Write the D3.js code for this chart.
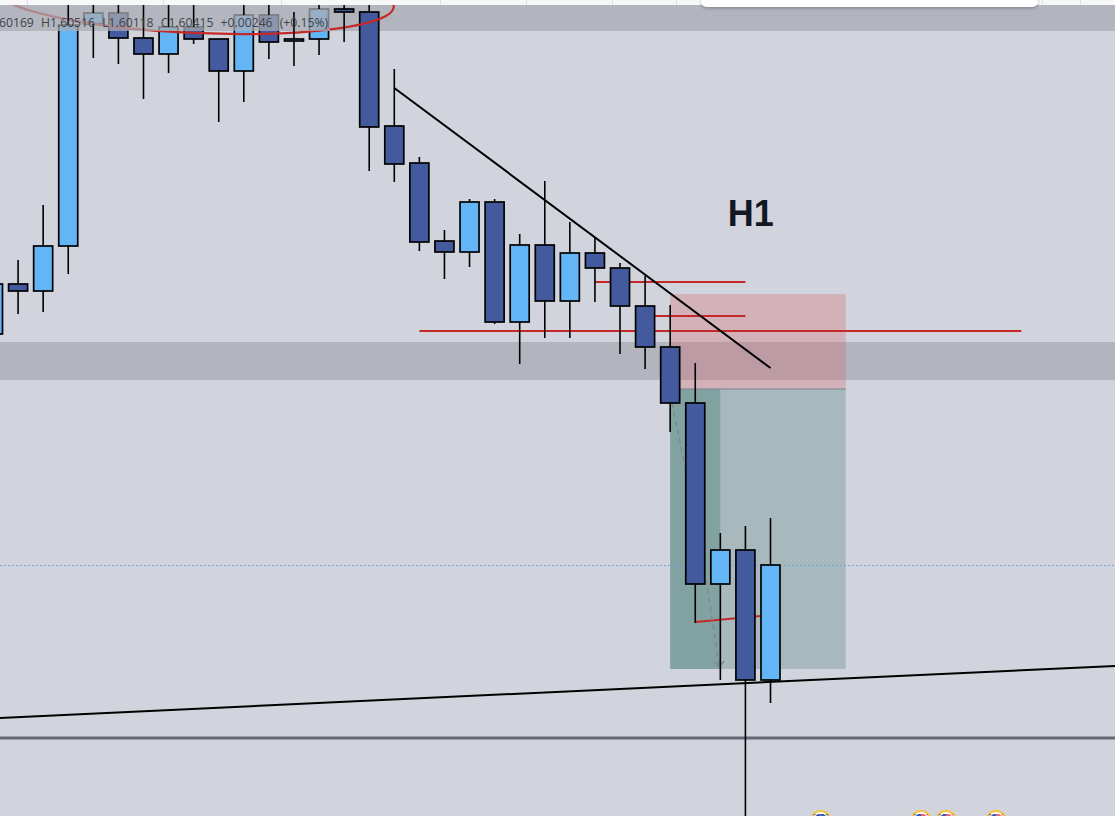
<!DOCTYPE html>
<html><head><meta charset="utf-8">
<script src="https://cdn.jsdelivr.net/npm/d3@7/dist/d3.min.js"></script>
<style>html,body{margin:0;padding:0;background:#d1d4dc;overflow:hidden}</style>
</head><body><svg id="c" width="1115" height="816"></svg>
<script>
// ---- data (bar index, price) ----
const opens  = [1.59830,1.60080,1.60045,1.60270,1.61380,1.61435,1.61310,1.61230,1.61365,1.61305,1.61145,1.61425,1.61295,1.61305,1.61455,1.61440,1.60870,1.60685,1.60295,1.60240,1.60490,1.59890,1.60275,1.59995,1.60235,1.60160,1.59970,1.59765,1.59485,1.58580,1.58750,1.58100];
const highs  = [1.60150,1.60200,1.60475,1.61525,1.61525,1.61525,1.61525,1.61525,1.61525,1.61305,1.61525,1.61525,1.61440,1.61525,1.61525,1.61525,1.61155,1.60715,1.60350,1.60505,1.60505,1.60330,1.60595,1.60390,1.60310,1.60185,1.60120,1.59975,1.59685,1.58835,1.58870,1.58910];
const lows   = [1.59775,1.59930,1.59940,1.60130,1.61210,1.61180,1.61005,1.61135,1.61280,1.60890,1.60990,1.61205,1.61170,1.61225,1.61290,1.60645,1.60590,1.60245,1.60105,1.60165,1.59880,1.59680,1.59810,1.59810,1.59990,1.59730,1.59655,1.59340,1.58385,1.58100,1.57350,1.57985];
const closes = [1.60080,1.60045,1.60270,1.61375,1.61435,1.61310,1.61230,1.61365,1.61305,1.61145,1.61425,1.61290,1.61305,1.61455,1.61440,1.60865,1.60680,1.60290,1.60240,1.60490,1.59890,1.60275,1.59995,1.60235,1.60160,1.59970,1.59765,1.59485,1.58580,1.58750,1.58100,1.58675];
const legendItems = ["60169","H1.60516","L1.60118","C1.60415","+0.00246","(+0.15%)"];
const timeframeLabel = "H1";
// price zones
const topZone = [1.61475, 1.61345];
const midZone = [1.59790, 1.59600];
const baseLine = 1.57810;
// drawings [idx1, price1, idx2, price2]
const downTrend = [16, 1.61060, 31, 1.59660];
const upTrend = [-1, 1.57903, 45, 1.58172];
const redLines = [[24,1.60090,30,1.60090],[26,1.59920,30,1.59920],[17,1.59845,41,1.59845],[28,1.58390,30.6,1.58420]];
// short position tool
const posStart = 27, posEnd = 34, posBarEnd = 29;
const posStop = 1.60030, posEntry = 1.59555, posTarget = 1.58155;
const arrowPts = [[27.07,1.59485],[28.39,1.58700],[28.95,1.58165]];
const eventIdx = [33,37,38,40];
const labelPos = [29.3, 1.60370];

// ---- scales ----
const W = 1115, H = 816;
const svg = d3.select("#c");
const x = d3.scaleLinear().domain([0,31]).range([-7,770.5]);
const y = d3.scaleLinear().domain([1.61500,1.57420]).range([0,H]);
const bw = 19;
const DARK = "#435b9e", LIGHT = "#64b5f6";

const defs = svg.append("defs");
const f = defs.append("filter").attr("id","sh").attr("x","-10%").attr("y","-50%").attr("width","120%").attr("height","250%");
f.append("feDropShadow").attr("dx",0).attr("dy",1.5).attr("stdDeviation",1.5).attr("flood-color","#000").attr("flood-opacity",0.25);

svg.append("rect").attr("width",W).attr("height",H).attr("fill","#d1d4dc");

// zones behind candles
svg.append("rect").attr("x",330).attr("width",W-330).attr("y",y(topZone[0])).attr("height",y(topZone[1])-y(topZone[0])).attr("fill","#b2b5be");
svg.append("rect").attr("x",0).attr("width",W).attr("y",y(midZone[0])).attr("height",y(midZone[1])-y(midZone[0])).attr("fill","#b2b5be");

// position tool
const px0 = x(posStart), px1 = x(posEnd);
svg.append("rect").attr("x",px0).attr("width",px1-px0).attr("y",y(posStop)).attr("height",y(posEntry)-y(posStop)).attr("fill","rgba(215,95,105,0.3)");
svg.append("rect").attr("x",px0).attr("width",px1-px0).attr("y",y(posEntry)).attr("height",y(posTarget)-y(posEntry)).attr("fill","rgba(104,144,142,0.4)");
svg.append("rect").attr("x",px0).attr("width",x(posBarEnd)-px0).attr("y",y(posEntry)).attr("height",y(posTarget)-y(posEntry)).attr("fill","rgba(60,120,110,0.35)");
svg.append("line").attr("x1",px0).attr("x2",px1).attr("y1",y(posEntry)).attr("y2",y(posEntry)).attr("stroke","#7d828c").attr("stroke-width",1);

// last price dotted line
svg.append("line").attr("x1",0).attr("x2",W).attr("y1",y(closes[closes.length-1])+0.5).attr("y2",y(closes[closes.length-1])+0.5)
  .attr("stroke","#5b9fdc").attr("stroke-width",1).attr("stroke-dasharray","1.5,2.5");

// base line
svg.append("line").attr("x1",0).attr("x2",W).attr("y1",y(baseLine)).attr("y2",y(baseLine)).attr("stroke","#656873").attr("stroke-width",3);

// red lines
svg.selectAll("line.red").data(redLines).join("line").attr("class","red")
  .attr("x1",d=>x(d[0])).attr("y1",d=>y(d[1])).attr("x2",d=>x(d[2])).attr("y2",d=>y(d[3]))
  .attr("stroke","#c62828").attr("stroke-width",2.2);

// dashed arrow
const ap = arrowPts.map(p=>[x(p[0]),y(p[1])]);
svg.append("path").attr("d",`M${ap[0][0]},${ap[0][1]} Q${ap[1][0]},${ap[1][1]} ${ap[2][0]},${ap[2][1]}`)
  .attr("fill","none").attr("stroke","#7c8a90").attr("stroke-width",1.5).attr("stroke-dasharray","5,4");
svg.append("path").attr("d",`M${ap[2][0]-5},${ap[2][1]-5} L${ap[2][0]},${ap[2][1]} L${ap[2][0]+5},${ap[2][1]-6}`)
  .attr("fill","none").attr("stroke","#7c8a90").attr("stroke-width",1.5);

// candles
const idx = d3.range(opens.length);
svg.selectAll("rect.body").data(idx).join("rect").attr("class","body")
  .attr("x",i=>x(i)-bw/2).attr("width",bw)
  .attr("y",i=>y(Math.max(opens[i],closes[i])))
  .attr("height",i=>Math.max(1.5,y(Math.min(opens[i],closes[i]))-y(Math.max(opens[i],closes[i]))))
  .attr("fill",i=>closes[i]>=opens[i]?LIGHT:DARK).attr("stroke","#000").attr("stroke-width",1.7);

// red ellipse
svg.append("ellipse").attr("cx",195).attr("cy",-2).attr("rx",199).attr("ry",35)
  .attr("transform","rotate(2.5,195,-2)").attr("fill","none").attr("stroke","#c62828").attr("stroke-width",2.2);

// legend overlay box
svg.append("rect").attr("x",0).attr("width",330).attr("y",y(topZone[0])).attr("height",y(topZone[1])-y(topZone[0]))
  .attr("fill","rgb(168,171,180)").attr("opacity",0.74);

// wicks (on top)
const wick = svg.append("g").attr("stroke","#000").attr("stroke-width",1.6);
idx.forEach(i=>{
  const top = Math.max(opens[i],closes[i]), bot = Math.min(opens[i],closes[i]);
  if (highs[i]>top) wick.append("line").attr("x1",x(i)).attr("x2",x(i)).attr("y1",y(highs[i])).attr("y2",y(top));
  if (lows[i]<bot) wick.append("line").attr("x1",x(i)).attr("x2",x(i)).attr("y1",y(bot)).attr("y2",y(lows[i]));
});

// trendlines
[downTrend, upTrend].forEach(t=>{
  svg.append("line").attr("x1",x(t[0])).attr("y1",y(t[1])).attr("x2",x(t[2])).attr("y2",y(t[3]))
    .attr("stroke","#000").attr("stroke-width",2);
});

// legend text
const lt = svg.append("text").attr("x",-1).attr("y",27).attr("font-family","'Open Sans', sans-serif").attr("font-size",12.2)
  .attr("word-spacing",4).attr("fill","#3f424a");
legendItems.forEach((s,k)=>{ lt.append("tspan").text((k?" ":"")+s); });

// H1 label
svg.append("text").attr("x",x(labelPos[0])).attr("y",y(labelPos[1])).attr("font-family","'Liberation Sans', Arial, sans-serif")
  .attr("font-weight","bold").attr("font-size",36).attr("fill","#131722").text(timeframeLabel);

// top strip
svg.append("rect").attr("x",0).attr("y",0).attr("width",W).attr("height",y(topZone[0])).attr("fill","#f7f8fa");
[27,163,281,440,526,612,676,1042,1080].forEach(v=>{
  svg.append("line").attr("x1",v+0.5).attr("x2",v+0.5).attr("y1",0).attr("y2",y(topZone[0])).attr("stroke","#dcdfe6");
});
svg.append("rect").attr("x",701).attr("y",-12).attr("width",337).attr("height",19).attr("rx",6).attr("fill","#ffffff").attr("filter","url(#sh)");

// event markers at bottom
eventIdx.forEach((e,k)=>{
  const g = svg.append("g").attr("transform",`translate(${x(e)},821)`);
  g.append("circle").attr("r",10).attr("fill","#ffffff").attr("stroke","#f3c342").attr("stroke-width",2);
  g.append("path").attr("d","M-7,-7 L0,-7 L0,7 L-7,7 Z").attr("fill","#3f57a8");
  g.append("path").attr("d","M0,-7 L7,-7 L7,7 L0,7 Z").attr("fill",k===0?"#3f57a8":"#e8607a");
  g.append("circle").attr("r",8).attr("fill","none").attr("stroke","#ffffff").attr("stroke-width",1.2);
});
</script></body></html>
